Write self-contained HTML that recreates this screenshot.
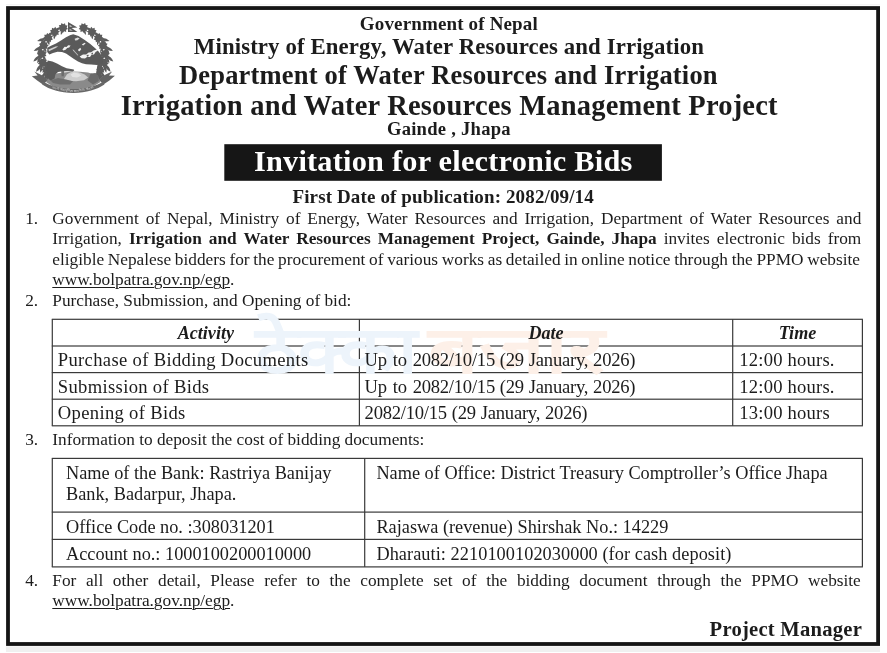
<!DOCTYPE html>
<html lang="en">
<head>
<meta charset="utf-8">
<title>Invitation for electronic Bids</title>
<style>
html,body{margin:0;padding:0;background:#fff;}
body{position:relative;width:887px;height:653px;overflow:hidden;font-family:"Liberation Serif","Noto Serif CJK SC",serif;color:#1c1c1c;}
#pg{position:absolute;left:0;top:0;width:887px;height:653px;will-change:transform;opacity:0.999;}
.b{position:absolute;}
.t{position:absolute;line-height:24px;white-space:nowrap;margin:0;}
.bd{font-weight:bold;}
.bi{font-weight:bold;font-style:italic;}
.wh{color:#fff;}
u{text-decoration:underline;text-decoration-thickness:1px;text-underline-offset:2px;}
.wm{position:absolute;transform-origin:0 0;font-family:"Liberation Sans","Noto Sans CJK SC",sans-serif;font-weight:bold;font-size:66px;line-height:80px;white-space:nowrap;}
.wb{color:#edf4fb;}
.wo{color:#fdf0e8;}
</style>
</head>
<body>
<div id="pg">
<svg class="b" style="left:0;top:0" width="887" height="653" viewBox="0 0 887 653"><rect x="8.00" y="8.05" width="870.10" height="635.95" fill="none" stroke="#151515" stroke-width="3.8"/><rect x="6.00" y="646.40" width="874.00" height="5.60" fill="#f0f0f0"/><rect x="6.00" y="4.20" width="874.00" height="1.00" fill="#f2f2f2"/><rect x="224.30" y="144.20" width="437.60" height="36.60" fill="#161616"/><rect x="51.80" y="318.70" width="811.10" height="1.20" fill="#3a3a3a"/><rect x="51.80" y="345.40" width="811.10" height="1.20" fill="#3a3a3a"/><rect x="51.80" y="372.00" width="811.10" height="1.20" fill="#3a3a3a"/><rect x="51.80" y="398.60" width="811.10" height="1.20" fill="#3a3a3a"/><rect x="51.80" y="425.20" width="811.10" height="1.20" fill="#3a3a3a"/><rect x="51.70" y="319.30" width="1.20" height="106.50" fill="#3a3a3a"/><rect x="358.80" y="319.30" width="1.20" height="106.50" fill="#3a3a3a"/><rect x="732.10" y="319.30" width="1.20" height="106.50" fill="#3a3a3a"/><rect x="861.80" y="319.30" width="1.20" height="106.50" fill="#3a3a3a"/><rect x="51.80" y="457.80" width="811.10" height="1.20" fill="#3a3a3a"/><rect x="51.80" y="511.50" width="811.10" height="1.20" fill="#3a3a3a"/><rect x="51.80" y="538.80" width="811.10" height="1.20" fill="#3a3a3a"/><rect x="51.80" y="566.30" width="811.10" height="1.20" fill="#3a3a3a"/><rect x="51.70" y="458.40" width="1.20" height="108.50" fill="#3a3a3a"/><rect x="364.10" y="458.40" width="1.20" height="108.50" fill="#3a3a3a"/><rect x="861.80" y="458.40" width="1.20" height="108.50" fill="#3a3a3a"/></svg>
<svg class="b" style="left:28px;top:18px" width="92" height="78" viewBox="28 18 92 78"><defs><filter id="sf" x="-5%" y="-5%" width="110%" height="110%"><feGaussianBlur stdDeviation="0.55"/></filter></defs><g filter="url(#sf)"><path d="M61.51,23.09 L63.19,24.29 L64.96,23.23 L65.47,25.23 L67.51,25.55 L66.61,27.41 L67.97,28.96 L66.09,29.81 L66.13,31.88 L64.14,31.32 L62.84,32.93 L61.68,31.22 L59.65,31.62 L59.86,29.56 L58.05,28.57 L59.53,27.12 L58.78,25.20 L60.84,25.04Z" fill="#5c5c5c" /><path d="M61.05,28.25 Q58.11,26.19 55.54,29.26 Q59.03,31.22 61.05,28.25Z" fill="#5c5c5c" /><path d="M62.46,29.83 Q60.01,31.63 60.92,35.00 Q63.53,32.69 62.46,29.83Z" fill="#5c5c5c" /><path d="M51.97,27.70 L53.92,28.38 L55.32,26.86 L56.37,28.64 L58.41,28.38 L58.07,30.41 L59.81,31.53 L58.24,32.87 L58.86,34.84 L56.80,34.86 L56.00,36.77 L54.41,35.46 L52.57,36.41 L52.19,34.38 L50.18,33.92 L51.19,32.13 L49.94,30.48 L51.87,29.76Z" fill="#5c5c5c" /><path d="M52.94,32.71 Q49.59,31.42 47.84,35.03 Q51.70,36.09 52.94,32.71Z" fill="#5c5c5c" /><path d="M54.61,33.89 Q52.58,36.16 54.16,39.28 Q56.24,36.47 54.61,33.89Z" fill="#5c5c5c" /><path d="M44.23,34.75 L46.29,34.84 L47.19,32.98 L48.71,34.37 L50.59,33.52 L50.86,35.57 L52.85,36.13 L51.74,37.87 L52.91,39.58 L50.94,40.20 L50.73,42.25 L48.82,41.46 L47.35,42.90 L46.39,41.07 L44.33,41.23 L44.78,39.21 L43.10,38.01 L44.74,36.75Z" fill="#5c5c5c" /><path d="M46.19,38.46 Q41.35,36.80 37.12,40.94 Q42.87,42.36 46.19,38.46Z" fill="#5c5c5c" /><path d="M46.54,39.17 Q41.99,39.47 39.91,44.32 Q45.13,43.51 46.54,39.17Z" fill="#5c5c5c" /><path d="M48.41,39.93 Q46.90,42.58 49.11,45.29 Q50.55,42.11 48.41,39.93Z" fill="#5c5c5c" /><path d="M39.01,43.67 L41.00,43.13 L41.29,41.09 L43.16,41.95 L44.70,40.57 L45.58,42.44 L47.64,42.37 L47.11,44.37 L48.74,45.64 L47.05,46.83 L47.48,48.85 L45.42,48.67 L44.45,50.50 L42.99,49.04 L41.07,49.81 L40.88,47.76 L38.92,47.12 L40.10,45.42Z" fill="#5c5c5c" /><path d="M41.93,46.50 Q36.83,46.03 33.71,51.06 Q39.63,51.07 41.93,46.50Z" fill="#5c5c5c" /><path d="M42.43,47.09 Q38.06,48.41 37.14,53.62 Q42.04,51.64 42.43,47.09Z" fill="#5c5c5c" /><path d="M44.40,47.41 Q43.53,50.33 46.28,52.47 Q46.98,49.05 44.40,47.41Z" fill="#5c5c5c" /><path d="M36.81,53.69 L38.54,52.55 L38.17,50.52 L40.22,50.76 L41.25,48.97 L42.67,50.47 L44.61,49.76 L44.73,51.82 L46.67,52.52 L45.44,54.17 L46.47,55.96 L44.47,56.44 L44.11,58.47 L42.27,57.55 L40.69,58.88 L39.87,56.98 L37.81,56.99 L38.40,55.01Z" fill="#5c5c5c" /><path d="M40.34,55.32 Q35.26,56.00 33.34,61.60 Q39.11,60.29 40.34,55.32Z" fill="#5c5c5c" /><path d="M40.96,55.79 Q37.00,58.07 37.27,63.34 Q41.60,60.31 40.96,55.79Z" fill="#5c5c5c" /><path d="M42.97,55.65 Q42.80,58.70 45.99,60.13 Q45.86,56.64 42.97,55.65Z" fill="#5c5c5c" /><path d="M37.87,63.87 L39.15,62.25 L38.17,60.44 L40.19,60.02 L40.60,58.00 L42.42,58.98 L44.04,57.69 L44.80,59.61 L46.86,59.67 L46.21,61.63 L47.76,63.00 L46.00,64.08 L46.30,66.12 L44.26,65.83 L43.18,67.58 L41.81,66.04 L39.85,66.70 L39.79,64.63Z" fill="#5c5c5c" /><path d="M41.55,64.20 Q36.73,65.93 36.02,71.81 Q41.39,69.32 41.55,64.20Z" fill="#5c5c5c" /><path d="M42.27,64.53 Q38.91,67.62 40.33,72.71 Q43.89,68.80 42.27,64.53Z" fill="#5c5c5c" /><path d="M42.22,72.47 L42.89,70.76 L41.58,69.47 L43.20,68.59 L43.03,66.77 L44.83,67.13 L45.87,65.62 L47.01,67.06 L48.78,66.57 L48.74,68.41 L50.40,69.18 L49.19,70.55 L49.97,72.21 L48.16,72.48 L47.69,74.26 L46.13,73.30 L44.63,74.36 L44.05,72.62Z" fill="#5c5c5c" /><path d="M45.25,71.73 Q40.85,74.33 41.25,80.23 Q46.06,76.78 45.25,71.73Z" fill="#5c5c5c" /><path d="M45.96,71.90 Q43.29,75.60 45.70,80.30 Q48.41,75.76 45.96,71.90Z" fill="#5c5c5c" /><path d="M43.50,62 L48.50,62 L51.30,80.5 L46.50,80.5Z" fill="#5c5c5c" /><path d="M85.09,23.09 L85.76,25.04 L87.82,25.20 L87.07,27.12 L88.55,28.57 L86.74,29.56 L86.95,31.62 L84.92,31.22 L83.76,32.93 L82.46,31.32 L80.47,31.88 L80.51,29.81 L78.63,28.96 L79.99,27.41 L79.09,25.55 L81.13,25.23 L81.64,23.23 L83.41,24.29Z" fill="#5c5c5c" /><path d="M85.55,28.25 Q87.57,31.22 91.06,29.26 Q88.49,26.19 85.55,28.25Z" fill="#5c5c5c" /><path d="M84.14,29.83 Q83.07,32.69 85.68,35.00 Q86.59,31.63 84.14,29.83Z" fill="#5c5c5c" /><path d="M94.63,27.70 L94.73,29.76 L96.66,30.48 L95.41,32.13 L96.42,33.92 L94.41,34.38 L94.03,36.41 L92.19,35.46 L90.60,36.77 L89.80,34.86 L87.74,34.84 L88.36,32.87 L86.79,31.53 L88.53,30.41 L88.19,28.38 L90.23,28.64 L91.28,26.86 L92.68,28.38Z" fill="#5c5c5c" /><path d="M93.66,32.71 Q94.90,36.09 98.76,35.03 Q97.01,31.42 93.66,32.71Z" fill="#5c5c5c" /><path d="M91.99,33.89 Q90.36,36.47 92.44,39.28 Q94.02,36.16 91.99,33.89Z" fill="#5c5c5c" /><path d="M102.37,34.75 L101.86,36.75 L103.50,38.01 L101.82,39.21 L102.27,41.23 L100.21,41.07 L99.25,42.90 L97.78,41.46 L95.87,42.25 L95.66,40.20 L93.69,39.58 L94.86,37.87 L93.75,36.13 L95.74,35.57 L96.01,33.52 L97.89,34.37 L99.41,32.98 L100.31,34.84Z" fill="#5c5c5c" /><path d="M100.41,38.46 Q103.73,42.36 109.48,40.94 Q105.25,36.80 100.41,38.46Z" fill="#5c5c5c" /><path d="M100.06,39.17 Q101.47,43.51 106.69,44.32 Q104.61,39.47 100.06,39.17Z" fill="#5c5c5c" /><path d="M98.19,39.93 Q96.05,42.11 97.49,45.29 Q99.70,42.58 98.19,39.93Z" fill="#5c5c5c" /><path d="M107.59,43.67 L106.50,45.42 L107.68,47.12 L105.72,47.76 L105.53,49.81 L103.61,49.04 L102.15,50.50 L101.18,48.67 L99.12,48.85 L99.55,46.83 L97.86,45.64 L99.49,44.37 L98.96,42.37 L101.02,42.44 L101.90,40.57 L103.44,41.95 L105.31,41.09 L105.60,43.13Z" fill="#5c5c5c" /><path d="M104.67,46.50 Q106.97,51.07 112.89,51.06 Q109.77,46.03 104.67,46.50Z" fill="#5c5c5c" /><path d="M104.17,47.09 Q104.56,51.64 109.46,53.62 Q108.54,48.41 104.17,47.09Z" fill="#5c5c5c" /><path d="M102.20,47.41 Q99.62,49.05 100.32,52.47 Q103.07,50.33 102.20,47.41Z" fill="#5c5c5c" /><path d="M109.79,53.69 L108.20,55.01 L108.79,56.99 L106.73,56.98 L105.91,58.88 L104.33,57.55 L102.49,58.47 L102.13,56.44 L100.13,55.96 L101.16,54.17 L99.93,52.52 L101.87,51.82 L101.99,49.76 L103.93,50.47 L105.35,48.97 L106.38,50.76 L108.43,50.52 L108.06,52.55Z" fill="#5c5c5c" /><path d="M106.26,55.32 Q107.49,60.29 113.26,61.60 Q111.34,56.00 106.26,55.32Z" fill="#5c5c5c" /><path d="M105.64,55.79 Q105.00,60.31 109.33,63.34 Q109.60,58.07 105.64,55.79Z" fill="#5c5c5c" /><path d="M103.63,55.65 Q100.74,56.64 100.61,60.13 Q103.80,58.70 103.63,55.65Z" fill="#5c5c5c" /><path d="M108.73,63.87 L106.81,64.63 L106.75,66.70 L104.79,66.04 L103.42,67.58 L102.34,65.83 L100.30,66.12 L100.60,64.08 L98.84,63.00 L100.39,61.63 L99.74,59.67 L101.80,59.61 L102.56,57.69 L104.18,58.98 L106.00,58.00 L106.41,60.02 L108.43,60.44 L107.45,62.25Z" fill="#5c5c5c" /><path d="M105.05,64.20 Q105.21,69.32 110.58,71.81 Q109.87,65.93 105.05,64.20Z" fill="#5c5c5c" /><path d="M104.33,64.53 Q102.71,68.80 106.27,72.71 Q107.69,67.62 104.33,64.53Z" fill="#5c5c5c" /><path d="M104.38,72.47 L102.55,72.62 L101.97,74.36 L100.47,73.30 L98.91,74.26 L98.44,72.48 L96.63,72.21 L97.41,70.55 L96.20,69.18 L97.86,68.41 L97.82,66.57 L99.59,67.06 L100.73,65.62 L101.77,67.13 L103.57,66.77 L103.40,68.59 L105.02,69.47 L103.71,70.76Z" fill="#5c5c5c" /><path d="M101.35,71.73 Q100.54,76.78 105.35,80.23 Q105.75,74.33 101.35,71.73Z" fill="#5c5c5c" /><path d="M100.64,71.90 Q98.19,75.76 100.90,80.30 Q103.31,75.60 100.64,71.90Z" fill="#5c5c5c" /><path d="M97.90,62 L102.90,62 L99.70,80.5 L94.90,80.5Z" fill="#5c5c5c" /><path d="M68.0,22.0 L77.4,27.6 L71.6,28.0 L77.4,31.9 L68.0,31.9Z" fill="#5a5a5a" /><path d="M69.6,24.9 L72.4,26.5 L69.6,26.7Z" fill="#dddddd" /><path d="M69.6,29.0 L72.8,30.6 L69.6,30.6Z" fill="#dddddd" /><path d="M73.2,34.3 L78.5,36.0 L84,39.5 L90,43.8 L95.2,48.2 L98.6,51.5 L101.6,55.5 L103.2,60 L102.5,64 L97,65 L91,64.6 L86,64.2 L82,63.2 L78,61.5 L74,59 L70,56.2 L66,53.6 L62,52 L57.5,51.8 L53,53 L49.4,54.6 L47.2,52 L47.3,47.8 L51,45.8 L56,43.4 L61,40.4 L66,37.2 L70,35.2Z" fill="#5a5a5a" /><path d="M62.4,49.6 L64.6,46.8 L66.5,47.0 L68.2,45.2 L70.6,45.6 L69.2,47.6 L67.2,48.0 L65.6,49.8 L63.4,50.6Z" fill="#f2f2f2" /><path d="M74.6,38.8 L77.8,37.6 L79.6,38.6 L77.4,40.2 L75.2,40.4Z" fill="#dcdcdc" /><path d="M81.8,44.6 L84.6,42.8 L85.6,43.6 L83.2,45.6Z" fill="#ededed" /><path d="M78.2,49.4 L80.4,47.8 L81.2,49.2 L79.6,51.2 L78.4,51.0Z" fill="#ededed" /><path d="M48.4,49.4 L55.5,46.6 L58.2,46.2 L55.8,48.0 L49.0,51.2Z" fill="#cfcfcf" /><path d="M72.6,49.0 L74.0,50.2 L78.4,55.2 L77.6,55.6 L73.0,50.6Z" fill="#bdbdbd" /><path d="M79.6,56.4 L83,54.6 L86.2,54.4 L88.6,52.6 L91.2,52.2 L93.6,50.4 L96.8,49.6 L98.0,50.6 L95.6,52.0 L94.0,54.4 L91.6,54.8 L90.0,57.0 L87.0,57.0 L85.0,58.4 L81.6,58.2Z" fill="#f4f4f4" /><path d="M86.4,55.6 L88.2,54.6 L88.8,56.0 L87.2,56.8Z M91.2,53.6 L92.8,52.6 L93.0,54.0 L91.8,54.4Z" fill="#5a5a5a" /><path d="M49.2,76 L56,73.6 L64,72.4 L72,71.6 L80,71.8 L88,72.6 L97.4,75.4 L100.5,82 L90,88.4 L73.3,91 L56,88.4 L46,82Z" fill="#8a8a8a" /><path d="M63.6,79.6 L67,74.2 L70.6,72.2 L75,71.6 L80,72.4 L84.6,74.4 L88.2,77.6 L84,80.2 L76,81.2 L68,80.8Z" fill="#cdcdcd" /><path d="M70.6,74.4 L74,72.6 L78.6,73.4 L81.4,75.8 L77,77.4 L72.4,77.0Z" fill="#e2e2e2" /><path d="M87.6,80.6 L90.6,73.6 L95.6,73.0 L98.6,76.4 L98.8,81 L93,84.6Z" fill="#6a6a6a" /><path d="M50.5,80.5 L58,78.0 L66,79.6 L73,81.2 L70,84.4 L60,84.6 L53,83Z" fill="#6e6e6e" /><path d="M47.6,60.4 L52.4,61.4 L57,63.6 L62,66.2 L66.6,68.2 L71,69.0 L73.8,69.4 L74.2,70.6 L72.6,71.4 L68,71.2 L63,71.2 L58,72.0 L55.4,74.6 L54.6,78.6 L50.6,80.6 L47.6,78 L46.2,70Z" fill="#5a5a5a" /><path d="M61.2,71.0 L64.2,71.0 L63.8,76.2 L61.6,76.2Z" fill="#6c6c6c" /><path d="M34.4,71.6 L37.6,75.6 L31.8,76.3 L37.2,80.6 L43.2,84.8 L47.4,80.2 L44.2,76.6 L40.4,74.4Z" fill="#646464" /><path d="M112.2,71.4 L109.0,75.4 L114.9,75.8 L109.4,80.4 L103.4,84.6 L99.2,80.0 L102.4,76.4 L106.2,74.2Z" fill="#646464" /><path d="M43.0,81.4 C50,85.6 60,88.8 73.3,89.0 C86.6,88.8 96.6,85.6 103.6,81.4 L104.4,84.6 C97,89.6 86.6,92.9 73.3,93.0 C60,92.9 49.6,89.6 42.2,84.6Z" fill="#686868" /><path id="rb" d="M46.2,85.2 C53,88.9 62,91.6 73.3,91.7 C84.6,91.6 93.6,88.9 100.4,85.2" fill="none"/><text font-family="&quot;Liberation Sans&quot;,&quot;Noto Sans CJK SC&quot;,sans-serif" font-size="3.0" font-weight="bold" fill="#b8b8b8" text-anchor="middle"><textPath href="#rb" startOffset="50%">जननी जन्मभूमिश्च स्वर्गादपि गरीयसी</textPath></text></g></svg>
<div class="wm wb" style="left:255px;top:310px;transform:scaleX(1.14);">ठेक्का</div>
<div class="wm wo" style="left:428px;top:310px;transform:scaleX(1.35);">बजार</div>
<div class="t bd" style="left:48.88px;top:12px;font-size:19.0px;letter-spacing:0.15px;width:800.00px;text-align:center;">Government of Nepal</div>
<div class="t bd" style="left:48.96px;top:35px;font-size:22.8px;letter-spacing:0.11px;width:800.00px;text-align:center;">Ministry of Energy, Water Resources and Irrigation</div>
<div class="t bd" style="left:48.39px;top:63px;font-size:26.5px;letter-spacing:0.185px;width:800.00px;text-align:center;">Department of Water Resources and Irrigation</div>
<div class="t bd" style="left:49.20px;top:94px;font-size:28.5px;letter-spacing:0.19px;width:800.00px;text-align:center;">Irrigation and Water Resources Management Project</div>
<div class="t bd" style="left:48.93px;top:117px;font-size:18.6px;letter-spacing:0.26px;width:800.00px;text-align:center;">Gainde , Jhapa</div>
<div class="t bd wh" style="left:43.22px;top:149px;font-size:30.3px;letter-spacing:0.23px;width:800.00px;text-align:center;">Invitation for electronic Bids</div>
<div class="t bd" style="left:43.17px;top:185px;font-size:19.0px;letter-spacing:0.13px;width:800.00px;text-align:center;">First Date of publication: 2082/09/14</div>
<div class="t" style="left:25.20px;top:207px;font-size:17.3px;">1.</div>
<div class="t" style="left:52.30px;top:207px;font-size:17.3px;width:809.00px;text-align:justify;text-align-last:justify;white-space:normal;">Government of Nepal, Ministry of Energy, Water Resources and Irrigation, Department of Water Resources and</div>
<div class="t" style="left:52.30px;top:227px;font-size:17.3px;width:809.00px;text-align:justify;text-align-last:justify;white-space:normal;">Irrigation, <b>Irrigation and Water Resources Management Project, Gainde, Jhapa</b> invites electronic bids from</div>
<div class="t" style="left:52.30px;top:248px;font-size:17.3px;word-spacing:-0.62px;">eligible Nepalese bidders for the procurement of various works as detailed in online notice through the PPMO website</div>
<div class="t" style="left:52.30px;top:268px;font-size:17.3px;"><u>www.bolpatra.gov.np/egp</u>.</div>
<div class="t" style="left:25.20px;top:289px;font-size:17.3px;">2.</div>
<div class="t" style="left:52.30px;top:289px;font-size:17.3px;">Purchase, Submission, and Opening of bid:</div>
<div class="t" style="left:25.20px;top:428px;font-size:17.3px;">3.</div>
<div class="t" style="left:52.30px;top:428px;font-size:17.3px;">Information to deposit the cost of bidding documents:</div>
<div class="t" style="left:25.20px;top:569px;font-size:17.3px;">4.</div>
<div class="t" style="left:52.30px;top:569px;font-size:17.3px;width:808.50px;text-align:justify;text-align-last:justify;white-space:normal;">For all other detail, Please refer to the complete set of the bidding document through the PPMO website</div>
<div class="t" style="left:52.30px;top:589px;font-size:17.3px;"><u>www.bolpatra.gov.np/egp</u>.</div>
<div class="t bd" style="left:709.60px;top:617px;font-size:20.6px;letter-spacing:0.24px;">Project Manager</div>
<div class="t bi" style="left:-194.15px;top:321px;font-size:18.1px;width:800.00px;text-align:center;">Activity</div>
<div class="t bi" style="left:146.00px;top:321px;font-size:18.1px;width:800.00px;text-align:center;">Date</div>
<div class="t bi" style="left:397.50px;top:321px;font-size:18.1px;width:800.00px;text-align:center;">Time</div>
<div class="t" style="left:57.80px;top:348px;font-size:18.6px;letter-spacing:0.33px;">Purchase of Bidding Documents</div>
<div class="t" style="left:364.60px;top:348px;font-size:18.6px;letter-spacing:-0.24px;word-spacing:0.5px;"><span style="word-spacing:1.5px">Up to </span>2082/10/15 (29 January, 2026)</div>
<div class="t" style="left:739.30px;top:348px;font-size:18.6px;letter-spacing:0.2px;">12:00 hours.</div>
<div class="t" style="left:57.80px;top:375px;font-size:18.6px;letter-spacing:0.33px;">Submission of Bids</div>
<div class="t" style="left:364.60px;top:375px;font-size:18.6px;letter-spacing:-0.24px;word-spacing:0.5px;"><span style="word-spacing:1.5px">Up to </span>2082/10/15 (29 January, 2026)</div>
<div class="t" style="left:739.30px;top:375px;font-size:18.6px;letter-spacing:0.2px;">12:00 hours.</div>
<div class="t" style="left:57.80px;top:401px;font-size:18.6px;letter-spacing:0.33px;">Opening of Bids</div>
<div class="t" style="left:364.60px;top:401px;font-size:18.6px;letter-spacing:-0.24px;word-spacing:0.5px;">2082/10/15 (29 January, 2026)</div>
<div class="t" style="left:739.30px;top:401px;font-size:18.6px;letter-spacing:0.2px;">13:00 hours</div>
<div class="t" style="left:66.00px;top:461px;font-size:18.3px;">Name of the Bank: Rastriya Banijay</div>
<div class="t" style="left:66.00px;top:482px;font-size:18.3px;">Bank, Badarpur, Jhapa.</div>
<div class="t" style="left:66.00px;top:515px;font-size:18.3px;">Office Code no. :308031201</div>
<div class="t" style="left:66.00px;top:542px;font-size:18.3px;">Account no.: 1000100200010000</div>
<div class="t" style="left:376.40px;top:461px;font-size:18.3px;">Name of Office: District Treasury Comptroller’s Office Jhapa</div>
<div class="t" style="left:376.40px;top:515px;font-size:18.3px;">Rajaswa (revenue) Shirshak No.: 14229</div>
<div class="t" style="left:376.40px;top:542px;font-size:18.3px;letter-spacing:0.06px;">Dharauti: 2210100102030000 (for cash deposit)</div>
</div>
</body>
</html>
